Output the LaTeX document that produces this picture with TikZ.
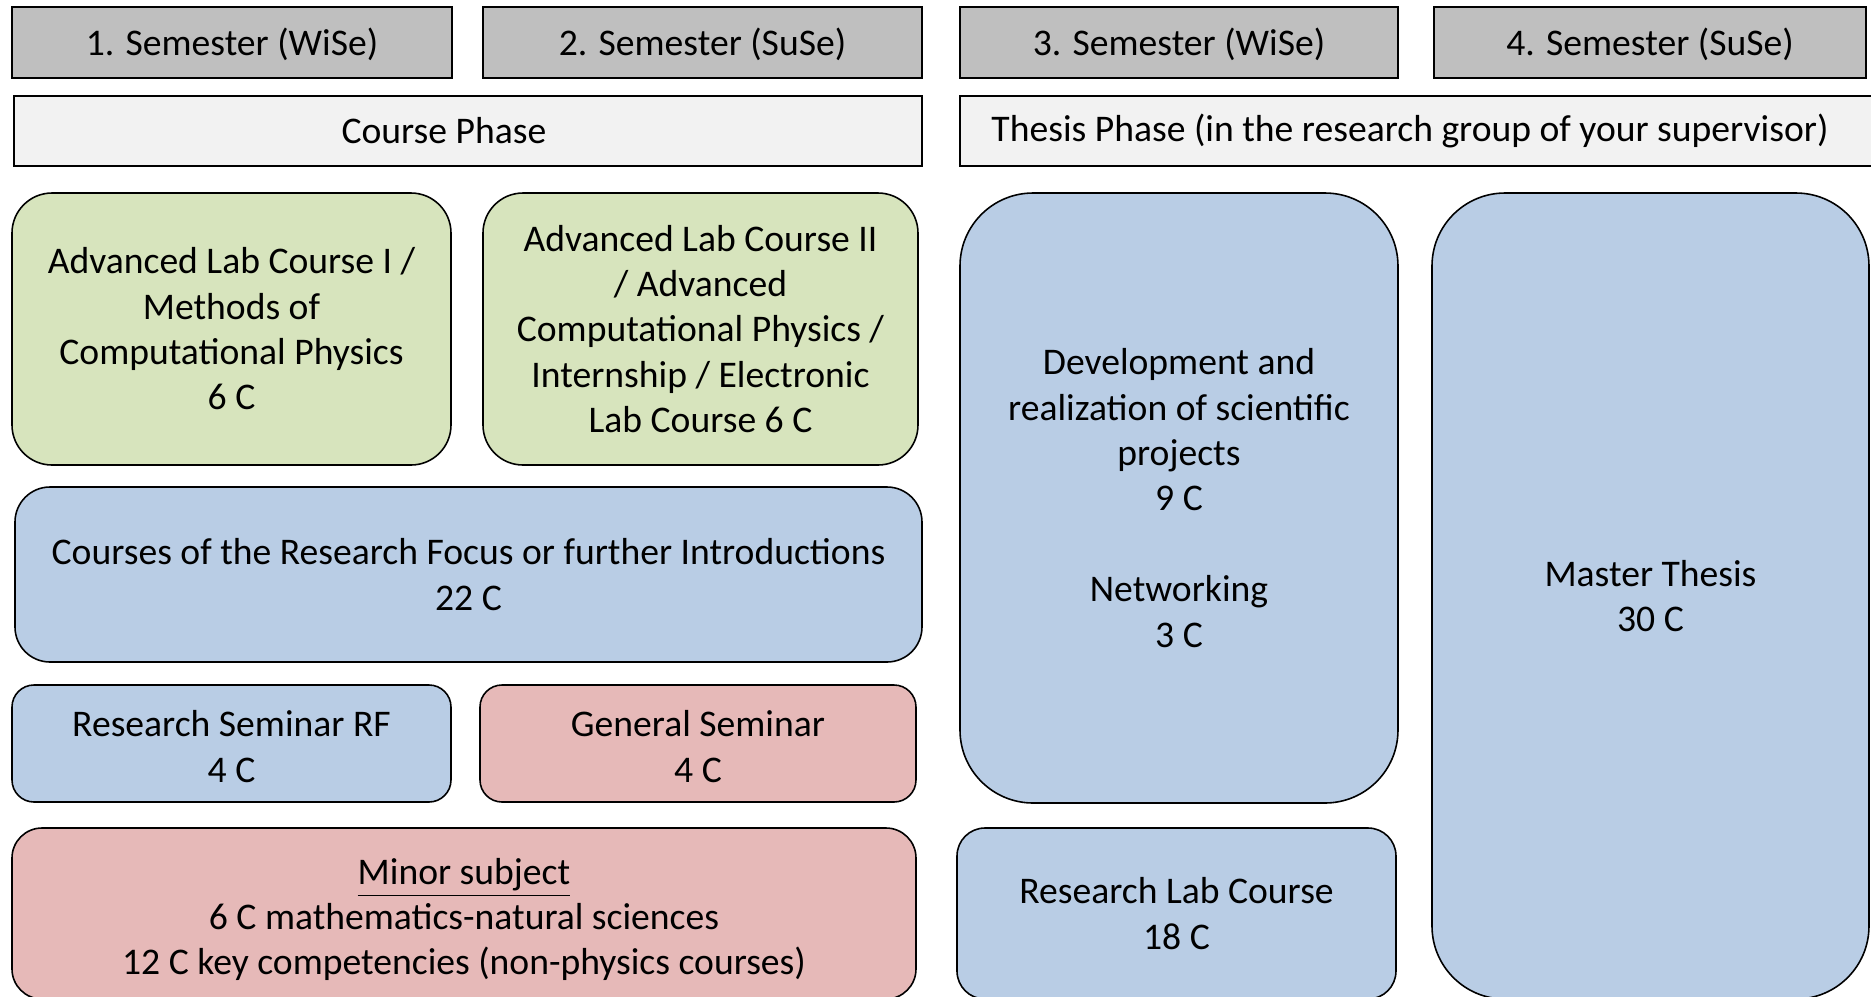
\documentclass[tikz,border=0pt]{standalone}
\usepackage{fontspec}
\setmainfont{Carlito}
\usetikzlibrary{fit}
\definecolor{semgray}{HTML}{BFBFBF}
\definecolor{phasegray}{HTML}{F2F2F2}
\definecolor{labgreen}{HTML}{D7E4BD}
\definecolor{focusblue}{HTML}{B9CDE5}
\definecolor{minorred}{HTML}{E6B9B8}
\begin{document}
\begin{tikzpicture}[x=0.01cm,y=-0.01cm,
  every node/.style={font=\fontsize{10.7}{12.9}\selectfont,align=center,inner sep=0pt},
  semhead/.style={draw,fill=semgray,line width=0.6pt},
  phasebox/.style={draw,fill=phasegray,line width=0.6pt},
  module/.style={draw,line width=0.45pt,rounded corners=#1},
  module/.default=0.4cm]
  \useasboundingbox (0,0) rectangle (1871,996);
  \clip (0,0) rectangle (1871,996);
  \node[semhead,fit={(12,7) (452,78)},label={[yshift=-0.02cm]center:1. Semester (WiSe)}] (sem1) {};
  \node[semhead,fit={(483,7) (922,78)},label={[yshift=-0.02cm]center:2. Semester (SuSe)}] (sem2) {};
  \node[semhead,fit={(960,7) (1398,78)},label={[yshift=-0.02cm]center:3. Semester (WiSe)}] (sem3) {};
  \node[semhead,fit={(1434,7) (1866,78)},label={[yshift=-0.02cm]center:4. Semester (SuSe)}] (sem4) {};
  \node[phasebox,fit={(14,96) (922,166)},label={[xshift=-0.24cm]center:Course Phase}] (coursephase) {};
  \node[phasebox,fit={(960,96) (1880,166)},label={[xshift=-0.1cm]center:Thesis Phase (in the research group of your supervisor)}] (thesisphase) {};
  \node[module,fill=labgreen,fit={(12,193) (451,465)},label={center:Advanced Lab Course I /\\Methods of\\Computational Physics\\6 C}] (lab1) {};
  \node[module,fill=labgreen,fit={(483,193) (918,465)},label={center:Advanced Lab Course II\\/ Advanced\\Computational Physics /\\Internship / Electronic\\Lab Course 6 C}] (lab2) {};
  \node[module=0.35cm,fill=focusblue,fit={(15,487) (922,662)},label={center:Courses of the Research Focus or further Introductions\\22 C}] (focus) {};
  \node[module=0.22cm,fill=focusblue,fit={(12,685) (451,802)},label={[yshift=-0.03cm]center:Research Seminar RF\\4 C}] (resseminar) {};
  \node[module=0.22cm,fill=minorred,fit={(480,685) (916,802)},label={[yshift=-0.03cm]center:General Seminar\\4 C}] (genseminar) {};
  \node[module=0.3cm,fill=minorred,fit={(12,828) (916,999)},label={[yshift=-0.06cm]center:\underline{Minor subject}\\6 C mathematics-natural sciences\\12 C key competencies (non-physics courses)}] (minor) {};
  \node[module=0.73cm,fill=focusblue,fit={(960,193) (1398,803)},label={center:Development and\\realization of scientific\\projects\\9 C\\[12.9pt]Networking\\3 C}] (projects) {};
  \node[module=0.28cm,fill=focusblue,fit={(957,828) (1396,999)},label={center:Research Lab Course\\18 C}] (reslab) {};
  \node[module=0.73cm,fill=focusblue,fit={(1432,193) (1869,999)},label={center:Master Thesis\\30 C}] (thesis) {};
\end{tikzpicture}
\end{document}
